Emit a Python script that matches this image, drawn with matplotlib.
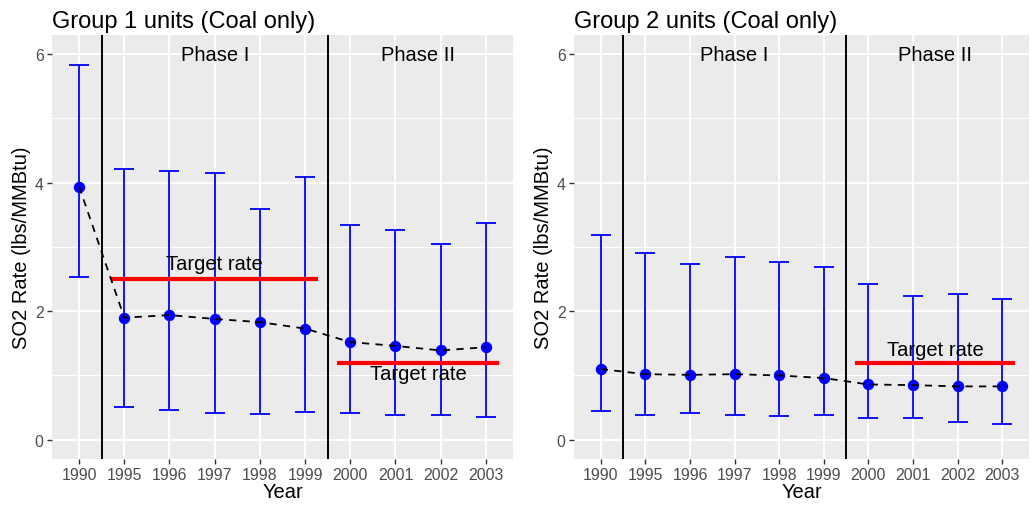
import matplotlib.pyplot as plt
import numpy as np

plt.rcParams['font.family'] = ['Liberation Sans', 'DejaVu Sans']

years = ['1990', '1995', '1996', '1997', '1998', '1999', '2000', '2001', '2002', '2003']

g1_mean = [3.94, 1.90, 1.94, 1.88, 1.83, 1.73, 1.52, 1.46, 1.39, 1.44]
g1_upper = [5.83, 4.22, 4.19, 4.15, 3.59, 4.09, 3.35, 3.27, 3.04, 3.37]
g1_lower = [2.54, 0.51, 0.47, 0.42, 0.40, 0.43, 0.42, 0.39, 0.38, 0.36]

g2_mean = [1.10, 1.02, 1.01, 1.02, 1.00, 0.96, 0.86, 0.85, 0.83, 0.83]
g2_upper = [3.18, 2.90, 2.73, 2.84, 2.76, 2.69, 2.42, 2.23, 2.27, 2.19]
g2_lower = [0.44, 0.39, 0.41, 0.39, 0.37, 0.38, 0.34, 0.34, 0.27, 0.25]

# target rates: (value, x start, x end, label y)
g1_targets = [(2.5, 1.75, 6.25, 2.74), (1.2, 6.75, 10.25, 1.03)]
g2_targets = [(1.2, 6.75, 10.25, 1.40)]


def panel(ax, title, mean, lower, upper, targets):
    x = np.arange(1, len(years) + 1)
    ax.set_facecolor('#EBEBEB')
    for s in ax.spines.values():
        s.set_visible(False)
    ax.set_xlim(0.4, 10.6)
    ax.set_ylim(-0.3, 6.3)
    ax.set_yticks([0, 2, 4, 6])
    ax.set_yticks([1, 3, 5], minor=True)
    ax.set_xticks(x)
    ax.set_xticklabels(years)
    ax.grid(which='major', color='white', lw=1.3)
    ax.grid(which='minor', axis='y', color='white', lw=0.65)
    ax.set_axisbelow(True)
    ax.tick_params(which='major', length=3.5, width=1.0, color='#333333',
                   labelcolor='#4D4D4D', labelsize=11.4, pad=2.5)
    ax.tick_params(which='minor', length=0)

    ax.axvline(1.5, color='black', lw=1.4)
    ax.axvline(6.5, color='black', lw=1.4)

    ax.errorbar(x, mean, yerr=[np.array(mean) - np.array(lower), np.array(upper) - np.array(mean)],
                fmt='none', ecolor='blue', elinewidth=1.3, capsize=7.2, capthick=1.3, zorder=2)
    ax.plot(x, mean, 'o', color='blue', ms=7.2, zorder=3)
    ax.plot(x, mean, color='black', ls=(0, (4, 3.5)), lw=1.3, zorder=4)

    for val, x0, x1, ly in targets:
        ax.plot([x0, x1], [val, val], color='red', lw=3, zorder=3)
        ax.text((x0 + x1) / 2, ly, 'Target rate', ha='center', va='center', fontsize=14.5, zorder=5)

    ax.text(4, 6.0, 'Phase I', ha='center', va='center', fontsize=14.5)
    ax.text(8.5, 6.0, 'Phase II', ha='center', va='center', fontsize=14.5)

    ax.set_xlabel('Year', fontsize=14.5, labelpad=0)
    ax.set_ylabel('SO2 Rate (lbs/MMBtu)', fontsize=14.5, labelpad=3)
    ax.set_title(title, loc='left', fontsize=17, pad=6)


fig = plt.figure(figsize=(10.31, 5.06), dpi=100)
ax1 = fig.add_axes([0.0504, 0.0909, 0.4472, 0.838])
ax2 = fig.add_axes([0.5567, 0.0909, 0.4414, 0.838])

panel(ax1, 'Group 1 units (Coal only)', g1_mean, g1_lower, g1_upper, g1_targets)
panel(ax2, 'Group 2 units (Coal only)', g2_mean, g2_lower, g2_upper, g2_targets)

fig.savefig('out.png', dpi=100)
